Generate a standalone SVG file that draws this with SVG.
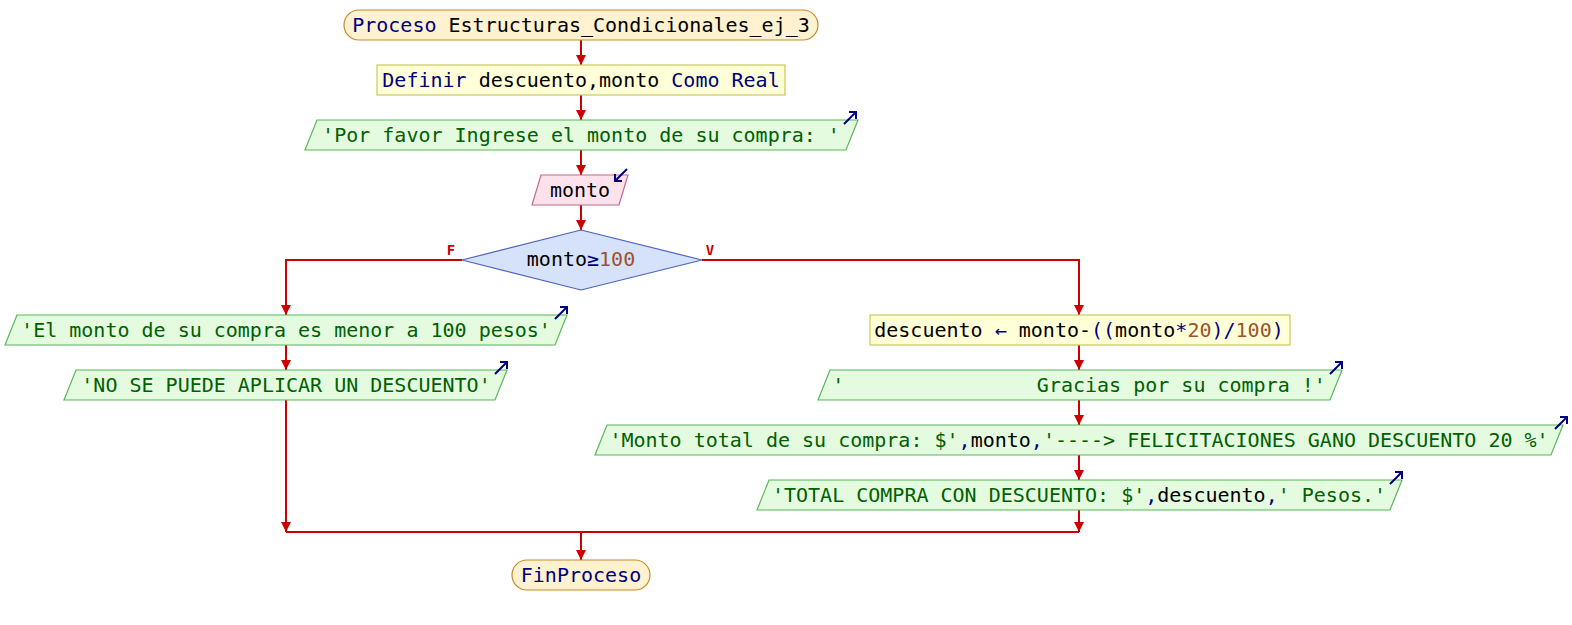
<svg xmlns="http://www.w3.org/2000/svg" width="1572" height="625" viewBox="0 0 1572 625">
<defs>
<style>
text{font-family:"DejaVu Sans Mono","Liberation Mono",monospace;font-size:20px;text-anchor:middle;dominant-baseline:central}
.kw{fill:#000080}.id{fill:#000000}.st{fill:#006000}.nm{fill:#a0522d}.op{fill:#000080}
.term{fill:#fff2d0;stroke:#c88a2a;stroke-width:1.2}
.proc{fill:#ffffd8;stroke:#c8c860;stroke-width:1.2}
.out{fill:#e4fbe0;stroke:#58b858;stroke-width:1.2}
.inp{fill:#fde2ee;stroke:#c06a8a;stroke-width:1.2}
.dec{fill:#d6e2fa;stroke:#4a64c0;stroke-width:1.2}
.ln{fill:none;stroke:#cc0000;stroke-width:2}
.ic{fill:none;stroke:#000080;stroke-width:2}
.lbl{fill:#cc0000;font-size:14px;font-weight:bold}
</style>
<marker id="ah" viewBox="0 0 10 10" refX="10" refY="5" markerWidth="10" markerHeight="10" markerUnits="userSpaceOnUse" orient="auto">
<path d="M0,0 L10,5 L0,10 z" fill="#cc0000"/>
</marker>
</defs>
<g id="connectors">
<line class="ln" x1="581" y1="40" x2="581" y2="65" marker-end="url(#ah)"/>
<line class="ln" x1="581" y1="95" x2="581" y2="120" marker-end="url(#ah)"/>
<line class="ln" x1="581" y1="150" x2="581" y2="175" marker-end="url(#ah)"/>
<line class="ln" x1="581" y1="205" x2="581" y2="230" marker-end="url(#ah)"/>
<polyline class="ln" points="462,260 286,260 286,315" marker-end="url(#ah)"/>
<polyline class="ln" points="702,260 1079,260 1079,315" marker-end="url(#ah)"/>
<line class="ln" x1="286" y1="345" x2="286" y2="370" marker-end="url(#ah)"/>
<line class="ln" x1="286" y1="400" x2="286" y2="532" marker-end="url(#ah)"/>
<line class="ln" x1="1079" y1="345" x2="1079" y2="370" marker-end="url(#ah)"/>
<line class="ln" x1="1079" y1="400" x2="1079" y2="425" marker-end="url(#ah)"/>
<line class="ln" x1="1079" y1="455" x2="1079" y2="480" marker-end="url(#ah)"/>
<line class="ln" x1="1079" y1="510" x2="1079" y2="532" marker-end="url(#ah)"/>
<line class="ln" x1="286" y1="532" x2="1079" y2="532"/>
<line class="ln" x1="581" y1="532" x2="581" y2="560" marker-end="url(#ah)"/>
<text class="lbl" x="451" y="250">F</text>
<text class="lbl" x="710" y="250">V</text>
</g>
<g id="n_inicio">
<rect class="term" x="344" y="10" width="474" height="30" rx="15"/>
<text x="581" y="25"><tspan class="kw">Proceso</tspan><tspan class="id"> Estructuras_Condicionales_ej_3</tspan></text>
</g>
<g id="n_definir">
<rect class="proc" x="377" y="65" width="408" height="30"/>
<text x="581" y="80"><tspan class="kw">Definir</tspan><tspan class="id"> descuento,monto </tspan><tspan class="kw">Como Real</tspan></text>
</g>
<g id="n_escribir1">
<polygon class="out" points="317,120 858,120 846,150 305,150"/>
<text x="581" y="135" class="st">'Por favor Ingrese el monto de su compra: '</text>
<path class="ic" d="M844,124 L856,112 M849,112 L856,112 L856,119"/>
</g>
<g id="n_leer">
<polygon class="inp" points="541,175 628,175 619,205 532,205"/>
<text x="580" y="190" class="id">monto</text>
<path class="ic" d="M627,169 L615,181 M615,174 L615,181 L622,181"/>
</g>
<g id="n_si">
<polygon class="dec" points="581,230 702,260 581,290 462,260"/>
<text x="581" y="259"><tspan class="id">monto</tspan><tspan class="op">≥</tspan><tspan class="nm">100</tspan></text>
</g>
<g id="n_f1">
<polygon class="out" points="17,315 567,315 555,345 5,345"/>
<text x="286" y="330" class="st">'El monto de su compra es menor a 100 pesos'</text>
<path class="ic" d="M555,319 L567,307 M560,307 L567,307 L567,314"/>
</g>
<g id="n_f2">
<polygon class="out" points="76,370 507,370 495,400 64,400"/>
<text x="286" y="385" class="st">'NO SE PUEDE APLICAR UN DESCUENTO'</text>
<path class="ic" d="M495,374 L507,362 M500,362 L507,362 L507,369"/>
</g>
<g id="n_asig">
<rect class="proc" x="870" y="315" width="420" height="30"/>
<text x="1079" y="330"><tspan class="id">descuento </tspan><tspan class="op">←</tspan><tspan class="id"> monto-</tspan><tspan class="op">((</tspan><tspan class="id">monto</tspan><tspan class="op">*</tspan><tspan class="nm">20</tspan><tspan class="op">)/</tspan><tspan class="nm">100</tspan><tspan class="op">)</tspan></text>
</g>
<g id="n_v2">
<polygon class="out" points="830,370 1342,370 1330,400 818,400"/>
<text x="1079" y="385" class="st" xml:space="preserve">'                Gracias por su compra !'</text>
<path class="ic" d="M1330,374 L1342,362 M1335,362 L1342,362 L1342,369"/>
</g>
<g id="n_v3">
<polygon class="out" points="607,425 1563,425 1551,455 595,455"/>
<text x="1079" y="440"><tspan class="st">'Monto total de su compra: $'</tspan><tspan class="op">,</tspan><tspan class="id">monto</tspan><tspan class="op">,</tspan><tspan class="st">'----&gt; FELICITACIONES GANO DESCUENTO 20 %'</tspan></text>
<path class="ic" d="M1555,429 L1567,417 M1560,417 L1567,417 L1567,424"/>
</g>
<g id="n_v4">
<polygon class="out" points="769,480 1402,480 1390,510 757,510"/>
<text x="1079" y="495"><tspan class="st">'TOTAL COMPRA CON DESCUENTO: $'</tspan><tspan class="op">,</tspan><tspan class="id">descuento</tspan><tspan class="op">,</tspan><tspan class="st">' Pesos.'</tspan></text>
<path class="ic" d="M1390,484 L1402,472 M1395,472 L1402,472 L1402,479"/>
</g>
<g id="n_fin">
<rect class="term" x="512" y="560" width="138" height="30" rx="15"/>
<text x="581" y="575" class="kw">FinProceso</text>
</g>
</svg>
